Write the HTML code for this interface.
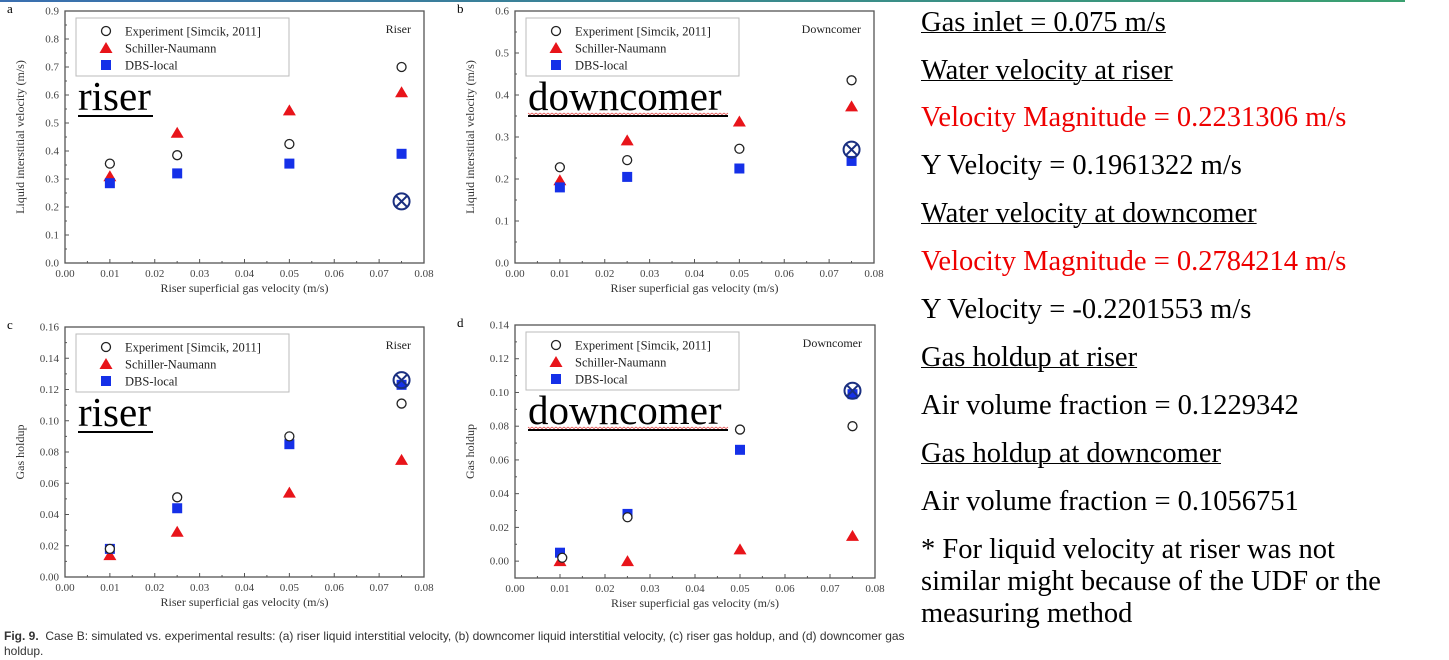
<!DOCTYPE html>
<html><head><meta charset="utf-8"><style>
body{margin:0;width:1449px;height:660px;background:#fff;overflow:hidden;position:relative;font-family:"Liberation Serif",serif}
.r{position:absolute;left:921px;font-size:28.5px;line-height:32px;white-space:nowrap;color:#000}
.u{text-decoration:underline;text-decoration-thickness:1px}
.red{color:#e00}
.cap{position:absolute;left:4px;font-family:"Liberation Sans",sans-serif;font-size:12px;color:#333;white-space:nowrap}
</style></head><body>
<div style="position:absolute;left:0;top:0;width:1405px;height:2px;background:linear-gradient(90deg,#3a6fb0,#3aa070)"></div>
<svg id="s" width="900" height="630" style="position:absolute;left:0;top:0" font-family="Liberation Serif, serif"></svg>
<div class="r u" style="top:7px">Gas inlet = 0.075 m/s</div>
<div class="r u" style="top:55px">Water velocity at riser</div>
<div class="r red" style="top:102px">Velocity Magnitude = 0.2231306 m/s</div>
<div class="r" style="top:150px">Y Velocity = 0.1961322 m/s</div>
<div class="r u" style="top:198px">Water velocity at downcomer</div>
<div class="r red" style="top:246px">Velocity Magnitude = 0.2784214 m/s</div>
<div class="r" style="top:294px">Y Velocity = -0.2201553 m/s</div>
<div class="r u" style="top:342px">Gas holdup at riser</div>
<div class="r" style="top:390px">Air volume fraction = 0.1229342</div>
<div class="r u" style="top:438px">Gas holdup at downcomer</div>
<div class="r" style="top:486px">Air volume fraction = 0.1056751</div>
<div class="r" style="top:534px">* For liquid velocity at riser was not</div>
<div class="r" style="top:566px">similar might because of the UDF or the</div>
<div class="r" style="top:598px">measuring method</div>
<div class="cap" style="top:629px"><b>Fig. 9.</b>&nbsp; Case B: simulated vs. experimental results: (a) riser liquid interstitial velocity, (b) downcomer liquid interstitial velocity, (c) riser gas holdup, and (d) downcomer gas</div>
<div class="cap" style="top:644px">holdup.</div>
<script>
const s=document.getElementById('s');let h='';
function chart(o){
 const {x0,x1,yT,yB,ymin,ymax,ystep,dec,lab,ylab,corner,exp,sn,dbs,cross,big,tickStart}=o;
 const X=v=>x0+(x1-x0)*v/0.08, Y=v=>yB-(yB-yT)*(v-ymin)/(ymax-ymin);
 h+=`<rect x="${x0}" y="${yT}" width="${x1-x0}" height="${yB-yT}" fill="none" stroke="#555" stroke-width="1.3"/>`;
 for(let i=0;i<=8;i++){const x=X(i*0.01);h+=`<line x1="${x}" y1="${yB}" x2="${x}" y2="${yB-4}" stroke="#555"/>`;
  if(i<8)h+=`<line x1="${x+22.4}" y1="${yB}" x2="${x+22.4}" y2="${yB-2}" stroke="#555"/>`;
  h+=`<text x="${x}" y="${yB+14}" font-size="11" fill="#444" text-anchor="middle">${(i*0.01).toFixed(2)}</text>`;}
 for(let v=tickStart;v<=ymax+1e-9;v+=ystep){const y=Y(v);h+=`<line x1="${x0}" y1="${y}" x2="${x0+4}" y2="${y}" stroke="#555"/>`;
  if(v+ystep/2<=ymax)h+=`<line x1="${x0}" y1="${Y(v+ystep/2)}" x2="${x0+2}" y2="${Y(v+ystep/2)}" stroke="#555"/>`;
  h+=`<text x="${x0-6}" y="${y+3.5}" font-size="11" fill="#444" text-anchor="end">${v.toFixed(dec)}</text>`;}
 h+=`<text x="${x0-58}" y="${yT+2}" font-size="13">${lab}</text>`;
 h+=`<text x="${(x0+x1)/2}" y="${yB+29}" font-size="12" fill="#333" text-anchor="middle">Riser superficial gas velocity (m/s)</text>`;
 const cy=(yT+yB)/2;h+=`<text transform="translate(${x0-41},${cy}) rotate(-90)" font-size="12" fill="#333" text-anchor="middle">${ylab}</text>`;
 h+=`<text x="${x1-13}" y="${yT+22}" font-size="12" fill="#222" text-anchor="end">${corner}</text>`;
 const lx=x0+11,ly=yT+7;h+=`<rect x="${lx}" y="${ly}" width="213" height="58" fill="#fff" stroke="#bbb"/>`;
 const it=[['Experiment [Simcik, 2011]','c'],['Schiller-Naumann','t'],['DBS-local','q']];
 it.forEach((t,i)=>{const yy=ly+13+i*17;h+=mk(t[1],lx+30,yy);h+=`<text x="${lx+49}" y="${yy+4.5}" font-size="12.5" fill="#222">${t[0]}</text>`;});
 const xs=[0.01,0.025,0.05,0.075];
 xs.forEach((v,i)=>{h+=mk('t',X(v),Y(sn[i]));h+=mk('q',X(v),Y(dbs[i]));h+=mk('c',X(exp[i][1]||v),Y(exp[i][0]||exp[i]));});
 const cx=X(0.075),cyy=Y(cross);h+=`<circle cx="${cx}" cy="${cyy}" r="8" fill="none" stroke="#1a2f80" stroke-width="2"/><line x1="${cx-5.6}" y1="${cyy-5.6}" x2="${cx+5.6}" y2="${cyy+5.6}" stroke="#1a2f80" stroke-width="2"/><line x1="${cx+5.6}" y1="${cyy-5.6}" x2="${cx-5.6}" y2="${cyy+5.6}" stroke="#1a2f80" stroke-width="2"/>`;
 const bx=x0+13,by=yT+99;h+=`<text x="${bx}" y="${by}" font-size="41" fill="#000">${big}</text>`;
 const w=big=='riser'?75:200;h+=`<rect x="${bx}" y="${by+5}" width="${w}" height="2" fill="#000"/>`;
 if(big!='riser')h+=`<path d="M${bx} ${by+3}` + Array.from({length:100},(_,k)=>` l2 ${k%2?-1.5:1.5}`).join('')+`" stroke="#d33" stroke-width="0.7" fill="none"/>`;
}
function mk(t,x,y){if(t=='c')return `<circle cx="${x}" cy="${y}" r="4.5" fill="#fff" stroke="#222" stroke-width="1.3"/>`;
 if(t=='t')return `<polygon points="${x},${y-6} ${x+6.5},${y+5} ${x-6.5},${y+5}" fill="#e8141a"/>`;
 return `<rect x="${x-5}" y="${y-5}" width="10" height="10" fill="#1530e8"/>`;}
chart({x0:65,x1:424,yT:11,yB:263,ymin:0,ymax:0.9,ystep:0.1,tickStart:0,dec:1,lab:'a',ylab:'Liquid interstitial velocity (m/s)',corner:'Riser',exp:[0.355,0.385,0.425,0.7],sn:[0.31,0.465,0.545,0.61],dbs:[0.285,0.32,0.355,0.39],cross:0.22,big:'riser'});
chart({x0:515,x1:874,yT:11,yB:263,ymin:0,ymax:0.6,ystep:0.1,tickStart:0,dec:1,lab:'b',ylab:'Liquid interstitial velocity (m/s)',corner:'Downcomer',exp:[0.228,0.245,0.272,0.435],sn:[0.197,0.292,0.337,0.373],dbs:[0.18,0.205,0.225,0.243],cross:0.27,big:'downcomer'});
chart({x0:65,x1:424,yT:327,yB:577,ymin:0,ymax:0.16,ystep:0.02,tickStart:0,dec:2,lab:'c',ylab:'Gas holdup',corner:'Riser',exp:[0.018,0.051,0.09,0.111],sn:[0.014,0.029,0.054,0.075],dbs:[0.018,0.044,0.085,0.123],cross:0.126,big:'riser'});
chart({x0:515,x1:875,yT:325,yB:578,ymin:-0.01,ymax:0.14,ystep:0.02,tickStart:0,dec:2,lab:'d',ylab:'Gas holdup',corner:'Downcomer',exp:[[0.002,0.0105],0.026,0.078,0.08],sn:[0,0,0.007,0.015],dbs:[0.005,0.028,0.066,0.099],cross:0.101,big:'downcomer'});
s.innerHTML=h;
</script>
</body></html>
